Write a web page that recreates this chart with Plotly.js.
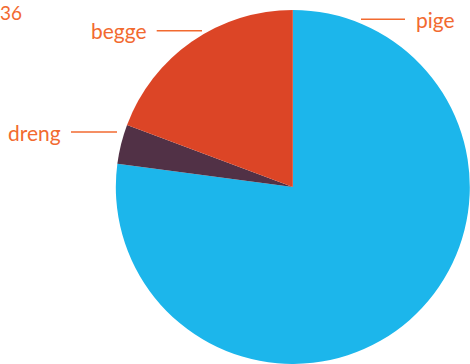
<!DOCTYPE html>
<html>
<head>
<meta charset="utf-8">
<script src="https://cdn.plot.ly/plotly-3.0.1.min.js"></script>
<style>html,body{margin:0;padding:0;background:#fff;}#chart{width:470px;height:364px;}</style>
</head>
<body>
<div id="chart"></div>
<script>
// Data
var titleText = "36";
var labels = ["pige", "dreng", "begge"];
var values = [77.1, 3.6, 19.3];
var colors = ["#1cb6eb", "#513146", "#dc4526"];

var textColor = "#f26a30";
var fontFamily = "Lato, 'Noto Sans', sans-serif";

var trace = {
  type: "pie",
  labels: labels,
  values: values,
  sort: false,
  direction: "clockwise",
  rotation: 0,
  marker: {colors: colors, line: {width: 0}},
  textinfo: "none",
  hoverinfo: "label+percent",
  domain: {x: [0.2464, 0.9996], y: [0.0, 0.9725]},
  showlegend: false
};

// label placements (pixels): text anchor and leader line
var labelPos = {
  "pige":  {tx: 414, ty: 19.3, anchor: "left",  l0: 361, l1: 405},
  "begge": {tx: 149, ty: 30.7, anchor: "right", l0: 156.7, l1: 202},
  "dreng": {tx: 63,  ty: 132,  anchor: "right", l0: 71, l1: 117}
};
var W = 470, H = 364;
var annotations = [], shapes = [];
labels.forEach(function(lab){
  var p = labelPos[lab];
  annotations.push({
    xref: "paper", yref: "paper",
    x: p.tx / W, y: 1 - p.ty / H,
    xanchor: p.anchor, yanchor: "middle",
    text: lab, showarrow: false,
    font: {family: fontFamily, size: 21, color: textColor}
  });
  shapes.push({
    type: "line", xref: "paper", yref: "paper",
    x0: p.l0 / W, x1: p.l1 / W, y0: 1 - p.ty / H, y1: 1 - p.ty / H,
    line: {color: textColor, width: 1.5}
  });
});

var layout = {
  width: W, height: H,
  margin: {l: 0, r: 0, t: 0, b: 0},
  paper_bgcolor: "#ffffff",
  title: {
    text: titleText,
    x: 0.0, xanchor: "left",
    y: 0.962, yanchor: "middle", yref: "container",
    font: {family: fontFamily, size: 19, color: textColor}
  },
  annotations: annotations,
  shapes: shapes
};

Plotly.newPlot("chart", [trace], layout, {displayModeBar: false});
</script>
</body>
</html>
